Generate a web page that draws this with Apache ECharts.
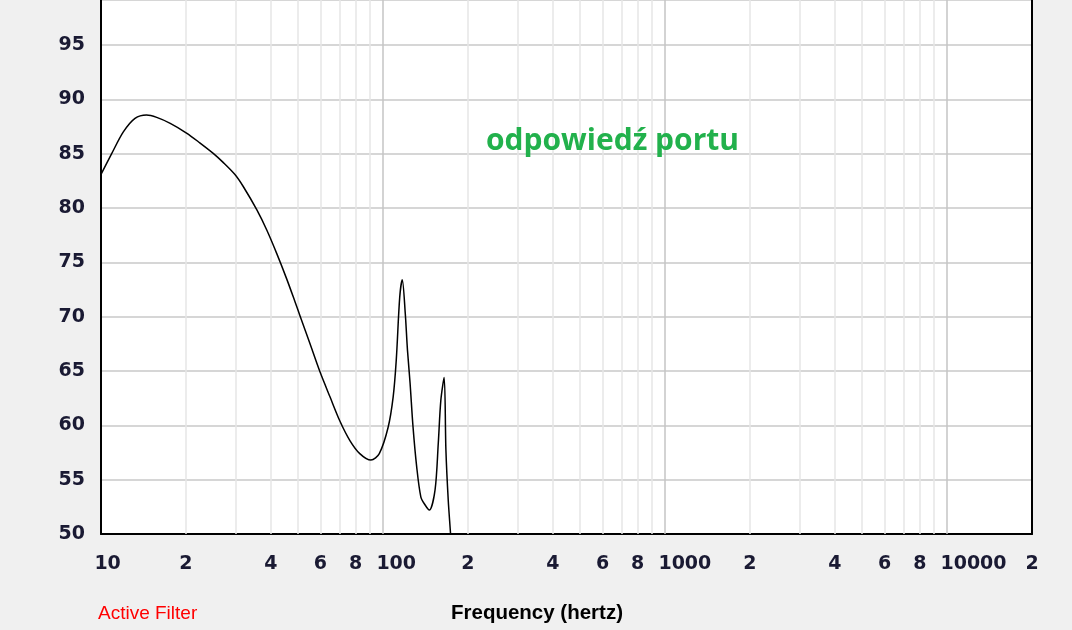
<!DOCTYPE html>
<html>
<head>
<meta charset="utf-8">
<script src="https://cdn.jsdelivr.net/npm/echarts@6/dist/echarts.min.js"></script>
<style>
html,body{margin:0;padding:0;background:#f0f0f0;}
#chart{width:1072px;height:630px;}
</style>
</head>
<body>
<div id="chart"></div>
<script>
// Frequency response data (Hz, dB)
const FREQ = [10, 10.91, 12.0, 13.2, 14.5, 15.76, 17.6, 20.1, 22.4, 25.0, 27.1, 29.8, 31.9, 35.7, 38.7, 42.0, 45.5, 48.7, 50.9, 55.1, 59.8, 64.9, 70.3, 76.3, 82.7, 90.6, 97.0, 104.2, 108.6, 111.4, 114.6, 117.0, 119.9, 122.1, 124.7, 127.7, 131.6, 136.2, 141.0, 145.9, 152.9, 157.0, 160.3, 164.7, 167.1, 170.3, 173.5, 176.5];
const SPL  = [83.1, 85.0, 87.0, 88.25, 88.56, 88.34, 87.79, 86.9, 86.0, 85.03, 84.2, 83.1, 82.0, 79.82, 77.97, 75.8, 73.5, 71.4, 70.0, 67.5, 64.9, 62.6, 60.4, 58.6, 57.4, 56.8, 57.4, 59.8, 62.6, 66.0, 71.8, 73.4, 70.3, 66.9, 63.9, 59.9, 56.2, 53.4, 52.67, 52.2, 54.05, 58.35, 62.3, 64.4, 57.7, 53.1, 50.06, 47.0];

// X tick labels (Hz)
const X_LABEL_VALUES = [10, 20, 40, 60, 80, 100, 200, 400, 600, 800, 1000, 2000, 4000, 6000, 8000, 10000, 20000];
// Vertical gridlines
const X_MAJOR_GRID = [100, 1000, 10000];
const X_MINOR_GRID = [20, 30, 40, 50, 60, 70, 80, 90, 200, 300, 400, 500, 600, 700, 800, 900, 2000, 3000, 4000, 5000, 6000, 7000, 8000, 9000];

const Y_MIN = 50, Y_MAX = 99.14, Y_STEP = 5;

const chart = echarts.init(document.getElementById('chart'));

const TICK_FONT = 'DejaVu Sans';
const TICK_SIZE = 19;
const TICK_COLOR = '#1a1a33';
const DW = 13.2;

function xLabel(v) {
  const s = String(Math.round(v));
  if (/^10*$/.test(s)) return '{d' + s.length + '|' + s + '}';
  return '{d1|' + s[0] + '}';
}
const rich = {};
for (let n = 1; n <= 5; n++) {
  rich['d' + n] = {
    fontFamily: TICK_FONT, fontSize: TICK_SIZE, fontWeight: 'bold', color: TICK_COLOR,
    padding: [0, 0, 0, (n - 1) * DW]
  };
}

const lineData = FREQ.map((f, i) => [f, SPL[i]]);

const gridMarks = [];
X_MINOR_GRID.forEach(v => gridMarks.push({ xAxis: v, lineStyle: { color: '#e6e6e6', width: 1.5, type: 'solid' } }));
X_MAJOR_GRID.forEach(v => gridMarks.push({ xAxis: v, lineStyle: { color: '#c4c4c4', width: 1.5, type: 'solid' } }));

chart.setOption({
  backgroundColor: '#f0f0f0',
  animation: false,
  grid: {
    left: 101, right: 40, top: 0, bottom: 96,
    show: true, backgroundColor: '#ffffff', borderWidth: 0
  },
  xAxis: {
    type: 'log', logBase: 10, min: 10, max: 20000,
    axisLine: { show: true, onZero: false, lineStyle: { color: '#000', width: 2 } },
    axisTick: { show: false },
    splitLine: { show: false },
    minorSplitLine: { show: false },
    axisLabel: {
      show: true, margin: 21, interval: 0, hideOverlap: false,
      customValues: X_LABEL_VALUES,
      formatter: xLabel, rich: rich, align: 'center'
    }
  },
  yAxis: [
    {
      type: 'value', min: Y_MIN, max: Y_MAX, interval: Y_STEP,
      axisLine: { show: true, lineStyle: { color: '#000', width: 2 } },
      axisTick: { show: false },
      splitLine: { show: true, lineStyle: { color: '#c8c8c8', width: 1.5 } },
      axisLabel: {
        margin: 16, fontFamily: TICK_FONT, fontSize: TICK_SIZE, fontWeight: 'bold', color: TICK_COLOR,
        showMaxLabel: false,
        formatter: v => (v % Y_STEP === 0 ? String(v) : '')
      }
    },
    {
      type: 'value', position: 'right', min: Y_MIN, max: Y_MAX, interval: Y_STEP,
      axisLine: { show: true, lineStyle: { color: '#000', width: 2 } },
      axisTick: { show: false }, axisLabel: { show: false }, splitLine: { show: false }
    }
  ],
  series: [
    {
      type: 'line', data: [], z: 1, silent: true,
      markLine: { silent: true, symbol: 'none', label: { show: false }, animation: false, data: gridMarks }
    },
    {
      type: 'line', data: lineData, z: 5, showSymbol: false, smooth: 0.3,
      clip: true,
      lineStyle: { color: '#000000', width: 1.5 }
    }
  ],
  graphic: [
    { type: 'text', z: 100, left: 98, top: 604, style: { text: 'Active Filter', fill: '#ff0000', font: '19px "Liberation Sans", Arial, sans-serif' } },
    { type: 'text', z: 100, left: 451, top: 603, style: { text: 'Frequency (hertz)', fill: '#000000', font: 'bold 20.5px "Liberation Sans", Arial, sans-serif' } },
    { type: 'text', z: 100, left: 486, top: 126, style: { text: 'odpowiedź portu', fill: '#22b14c', font: 'bold 30px "Open Sans", sans-serif' } }
  ]
});
</script>
</body>
</html>
